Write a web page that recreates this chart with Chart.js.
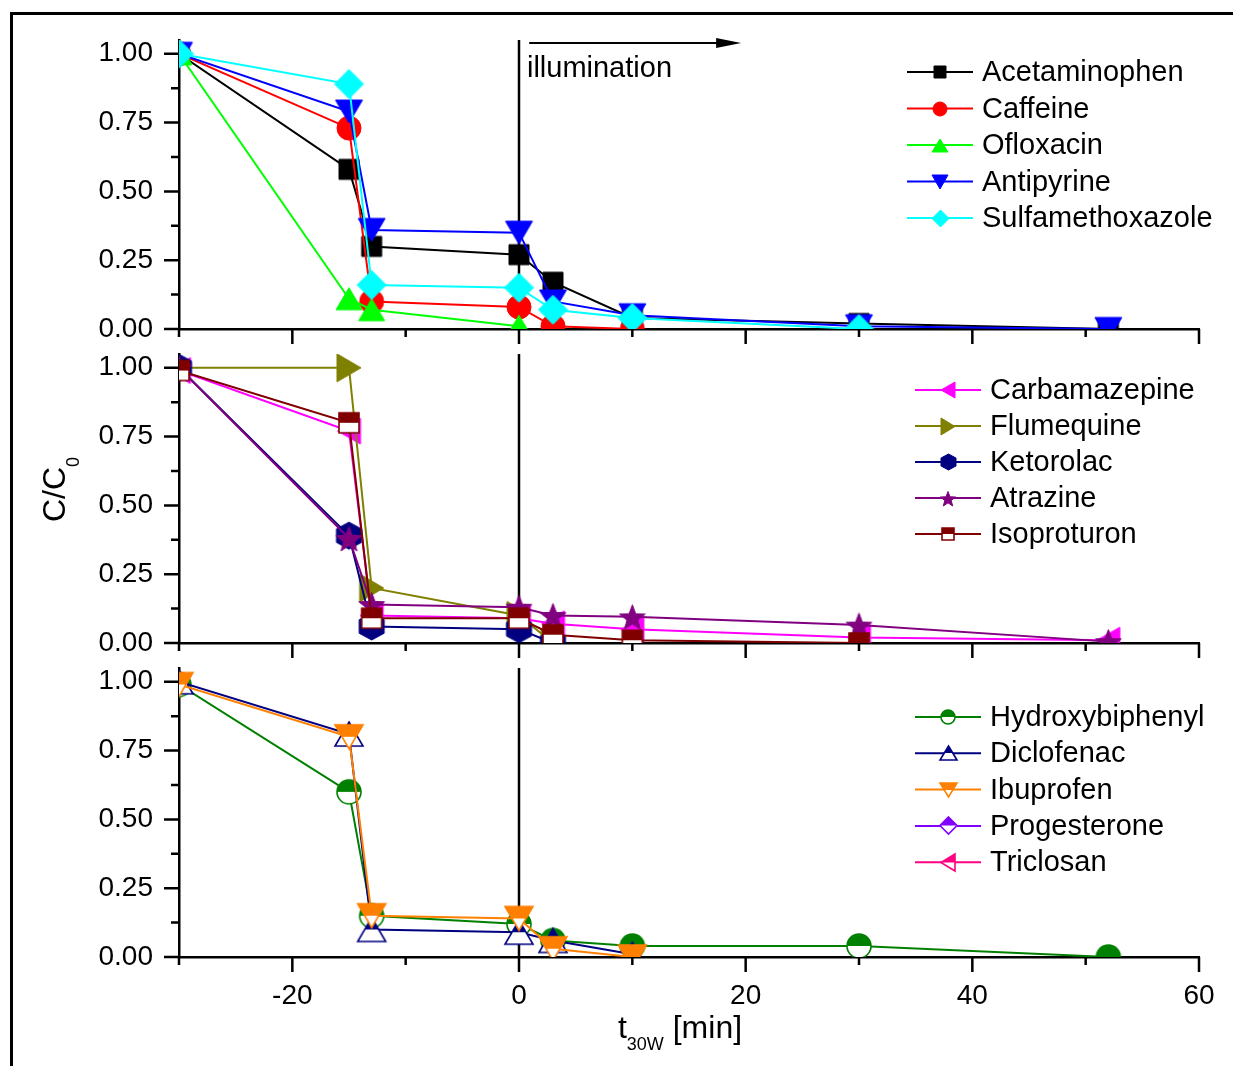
<!DOCTYPE html>
<html>
<head>
<meta charset="utf-8">
<title>C/C0 vs t30W</title>
<script src="https://cdn.jsdelivr.net/npm/chart.js@4.4.1/dist/chart.umd.min.js"></script>
<style>
  html, body { margin: 0; padding: 0; background: #fff; }
  #page { position: relative; width: 1233px; height: 1066px; overflow: hidden; background: #fff; }
  #frame { position: absolute; left: 10px; top: 12px; width: 1400px; height: 1200px;
           border-left: 3px solid #000; border-top: 3px solid #000; }
  canvas { position: absolute; left: 0; }
</style>
</head>
<body>
<div id="page">
  <div id="frame"></div>
  <canvas id="panel1" width="1233" height="345" style="top:0px"></canvas>
  <canvas id="panel2" width="1233" height="315" style="top:345px"></canvas>
  <canvas id="panel3" width="1233" height="406" style="top:660px"></canvas>
</div>
<script>
// Время отбора проб, мин
const times = [-30, -15, -13, 0, 3, 10, 30, 52];

const xTicks = [-30, -20, -10, 0, 10, 20, 30, 40, 50, 60];
const xLabels = ['', '-20', '', '0', '', '20', '', '40', '', '60'];
const yTicks = [0, 0.125, 0.25, 0.375, 0.5, 0.625, 0.75, 0.875, 1];
const yLabels = ['0.00', '', '0.25', '', '0.50', '', '0.75', '', '1.00'];

// верхняя панель
const acetaminophen = [1.00, 0.58, 0.30, 0.27, 0.17, 0.04, 0.02, 0.00];
const caffeine = [1.00, 0.73, 0.10, 0.08, 0.01, 0.00, null, null];
const ofloxacin = [1.00, 0.11, 0.07, 0.01, null, null, null, null];
const antipyrine = [1.00, 0.79, 0.36, 0.35, 0.10, 0.05, 0.01, 0.00];
const sulfamethoxazole = [1.00, 0.89, 0.16, 0.15, 0.07, 0.04, 0.00, null];

// средняя панель
const carbamazepine = [0.99, 0.77, 0.10, 0.09, 0.07, 0.05, 0.02, 0.01];
const flumequine = [1.00, 1.00, 0.20, 0.10, 0.00, null, null, null];
const ketorolac = [1.00, 0.39, 0.06, 0.05, 0.00, null, null, null];
const atrazine = [1.00, 0.38, 0.14, 0.13, 0.10, 0.095, 0.065, 0.005];
const isoproturon = [0.99, 0.80, 0.09, 0.09, 0.03, 0.01, 0.00, null];

// нижняя панель
const hydroxybiphenyl = [0.99, 0.60, 0.15, 0.12, 0.06, 0.04, 0.04, 0.00];
const diclofenac = [1.00, 0.81, 0.10, 0.09, 0.06, 0.01, null, null];
const ibuprofen = [0.99, 0.80, 0.15, 0.14, 0.03, 0.00, null, null];
const progesterone = [null, null, null, null, null, null, null, null];
const triclosan = [null, null, null, null, null, null, null, null];

const FONT = '"Liberation Sans", Arial, sans-serif';

// Контур маркера
function shapePath(ctx, shape, cx, cy, w, h) {
  ctx.beginPath();
  if (shape === 'square') {
    ctx.rect(cx - w / 2, cy - h / 2, w, h);
  } else if (shape === 'circle') {
    ctx.arc(cx, cy, w / 2, 0, Math.PI * 2);
  } else if (shape === 'up') {
    ctx.moveTo(cx, cy - h / 2); ctx.lineTo(cx + w / 2, cy + h / 2); ctx.lineTo(cx - w / 2, cy + h / 2);
  } else if (shape === 'down') {
    ctx.moveTo(cx - w / 2, cy - h / 2); ctx.lineTo(cx + w / 2, cy - h / 2); ctx.lineTo(cx, cy + h / 2);
  } else if (shape === 'right') {
    ctx.moveTo(cx - w / 2, cy - h / 2); ctx.lineTo(cx + w / 2, cy); ctx.lineTo(cx - w / 2, cy + h / 2);
  } else if (shape === 'left') {
    ctx.moveTo(cx + w / 2, cy - h / 2); ctx.lineTo(cx - w / 2, cy); ctx.lineTo(cx + w / 2, cy + h / 2);
  } else if (shape === 'diamond') {
    ctx.moveTo(cx, cy - h / 2); ctx.lineTo(cx + w / 2, cy); ctx.lineTo(cx, cy + h / 2); ctx.lineTo(cx - w / 2, cy);
  } else if (shape === 'hexagon') {
    for (let k = 0; k < 6; k++) {
      const ang = -Math.PI / 2 + k * Math.PI / 3;
      const px = cx + Math.cos(ang) * w / 2 / Math.cos(Math.PI / 6);
      const py = cy + Math.sin(ang) * h / 2;
      k === 0 ? ctx.moveTo(px, py) : ctx.lineTo(px, py);
    }
  } else if (shape === 'star') {
    for (let k = 0; k < 10; k++) {
      const r = k % 2 === 0 ? h / 2 : h / 2 * 0.42;
      const ang = -Math.PI / 2 + k * Math.PI / 5;
      const px = cx + Math.cos(ang) * r;
      const py = cy + 1.5 + Math.sin(ang) * r;
      k === 0 ? ctx.moveTo(px, py) : ctx.lineTo(px, py);
    }
  }
  ctx.closePath();
}

function makeMarker(shape, color, w, h, half) {
  const c = document.createElement('canvas');
  c.width = Math.ceil(w + 4);
  c.height = Math.ceil(h + 4);
  const ctx = c.getContext('2d');
  const cx = c.width / 2, cy = c.height / 2;
  shapePath(ctx, shape, cx, cy, w, h);
  if (half) {
    ctx.fillStyle = '#fff';
    ctx.fill();
    ctx.save();
    ctx.clip();
    ctx.fillStyle = color;
    ctx.fillRect(0, 0, c.width, cy);
    ctx.restore();
    ctx.lineWidth = 1.6;
    ctx.strokeStyle = color;
    ctx.stroke();
  } else {
    ctx.fillStyle = color;
    ctx.fill();
    ctx.lineWidth = 1;
    ctx.strokeStyle = color;
    ctx.stroke();
  }
  return c;
}

function makeDataset(label, values, color, shape, w, h, half, idx, total) {
  return {
    label,
    data: times.map((t, i) => ({ x: t, y: values[i] })).filter(p => p.y !== null),
    borderColor: color,
    backgroundColor: color,
    borderWidth: 2,
    tension: 0,
    pointStyle: makeMarker(shape, color, w, h, half),
    legendMarker: makeMarker(shape, color, Math.round(w * 0.6), Math.round(h * 0.6), half),
    pointRadius: 12,
    order: total - idx,
    clip: 0
  };
}

// Оси: засечки наружу, вертикальная линия t = 0
const axisDecor = {
  id: 'axisDecor',
  beforeDatasetsDraw(chart) {
    const { ctx, chartArea: a, scales: { x } } = chart;
    const px = x.getPixelForValue(0);
    ctx.save();
    ctx.strokeStyle = '#000';
    ctx.lineWidth = 2.5;
    ctx.beginPath();
    ctx.moveTo(px, a.top);
    ctx.lineTo(px, a.bottom);
    ctx.stroke();
    ctx.restore();
  },
  afterDraw(chart) {
    const { ctx, chartArea: a, scales: { x, y } } = chart;
    ctx.save();
    ctx.strokeStyle = '#000';
    ctx.lineWidth = 2.5;
    ctx.beginPath();
    xTicks.forEach(v => {
      const p = x.getPixelForValue(v);
      const len = v % 20 === 0 ? 15 : 8;
      ctx.moveTo(p, a.bottom);
      ctx.lineTo(p, a.bottom + len);
    });
    yTicks.forEach(v => {
      const p = y.getPixelForValue(v);
      const len = Math.round(v * 1000) % 250 === 0 ? 15 : 8;
      ctx.moveTo(a.left - len, p);
      ctx.lineTo(a.left, p);
    });
    ctx.stroke();
    ctx.restore();
  }
};

// Легенда: линия + маркер + подпись
const sideLegend = {
  id: 'sideLegend',
  afterDraw(chart, args, opts) {
    const { ctx, chartArea: a } = chart;
    ctx.save();
    ctx.font = '29px ' + FONT;
    ctx.textBaseline = 'middle';
    ctx.fillStyle = '#000';
    chart.data.datasets.forEach((ds, i) => {
      const y = a.top + opts.top + i * opts.step;
      const x0 = a.right - opts.right;
      ctx.strokeStyle = ds.borderColor;
      ctx.lineWidth = 2;
      ctx.beginPath();
      ctx.moveTo(x0, y);
      ctx.lineTo(x0 + 66, y);
      ctx.stroke();
      const m = ds.legendMarker;
      ctx.drawImage(m, Math.round(x0 + 33 - m.width / 2), Math.round(y - m.height / 2));
      ctx.fillText(ds.label, x0 + 75, y + 1);
    });
    ctx.restore();
  }
};

// Стрелка "illumination"
const illumination = {
  id: 'illumination',
  afterDraw(chart) {
    const { ctx, chartArea: a, scales: { x } } = chart;
    const x0 = x.getPixelForValue(0.9);
    const x1 = x.getPixelForValue(19.6);
    const y = a.top + 3;
    ctx.save();
    ctx.strokeStyle = '#000';
    ctx.fillStyle = '#000';
    ctx.lineWidth = 2;
    ctx.beginPath();
    ctx.moveTo(x0, y);
    ctx.lineTo(x1 - 20, y);
    ctx.stroke();
    ctx.beginPath();
    ctx.moveTo(x1, y);
    ctx.lineTo(x1 - 25, y - 5);
    ctx.lineTo(x1 - 25, y + 5);
    ctx.closePath();
    ctx.fill();
    ctx.font = '29px ' + FONT;
    ctx.textBaseline = 'alphabetic';
    ctx.fillText('illumination', x.getPixelForValue(0.7), a.top + 37);
    ctx.restore();
  }
};

// Подписи осей с индексами
const yTitle = {
  id: 'yTitle',
  afterDraw(chart) {
    const { ctx, chartArea: a } = chart;
    const cy = (a.top + a.bottom) / 2 - 9;
    ctx.save();
    ctx.fillStyle = '#000';
    ctx.translate(65, cy);
    ctx.rotate(-Math.PI / 2);
    ctx.font = '32px ' + FONT;
    const wMain = ctx.measureText('C/C').width;
    ctx.font = '18px ' + FONT;
    const wSub = ctx.measureText('0').width;
    const start = -(wMain + wSub) / 2;
    ctx.font = '32px ' + FONT;
    ctx.fillText('C/C', start, 0);
    ctx.font = '18px ' + FONT;
    ctx.fillText('0', start + wMain, 14);
    ctx.restore();
  }
};

const xTitle = {
  id: 'xTitle',
  afterDraw(chart) {
    const { ctx, chartArea: a } = chart;
    const base = a.bottom + 81;
    ctx.save();
    ctx.fillStyle = '#000';
    ctx.font = '32px ' + FONT;
    const wT = ctx.measureText('t').width;
    const wRest = ctx.measureText(' [min]').width;
    ctx.font = '18px ' + FONT;
    const wSub = ctx.measureText('30W').width;
    let xs = (a.left + a.right) / 2 - 9 - (wT + wSub + wRest) / 2;
    ctx.font = '32px ' + FONT;
    ctx.fillText('t', xs, base);
    xs += wT;
    ctx.font = '18px ' + FONT;
    ctx.fillText('30W', xs, base + 12);
    xs += wSub;
    ctx.font = '32px ' + FONT;
    ctx.fillText(' [min]', xs, base);
    ctx.restore();
  }
};

// убираем запас под подписи, чтобы область графика была ровно заданной
function noPadding(s) {
  s.paddingLeft = 0;
  s.paddingRight = 0;
  s.paddingTop = 0;
  s.paddingBottom = 0;
}

function makeScales(showX, xHeight) {
  return {
    x: {
      type: 'linear',
      min: -30,
      max: 60,
      afterBuildTicks: s => { s.ticks = xTicks.map(v => ({ value: v })); },
      afterFit: s => { s.height = xHeight; noPadding(s); },
      grid: { display: false, drawTicks: false },
      border: { display: true, color: '#000', width: 2.5 },
      ticks: {
        display: showX,
        autoSkip: false,
        maxRotation: 0,
        padding: 22,
        color: '#000',
        font: { family: FONT, size: 28 },
        callback: (v, i) => xLabels[i]
      }
    },
    y: {
      min: 0,
      max: 1.05,
      afterBuildTicks: s => { s.ticks = yTicks.map(v => ({ value: v })); },
      afterFit: s => { s.width = 179; noPadding(s); },
      grid: { display: false, drawTicks: false },
      border: { display: true, color: '#000', width: 2.5 },
      ticks: {
        autoSkip: false,
        padding: 26,
        color: '#000',
        font: { family: FONT, size: 28 },
        callback: (v, i) => yLabels[i]
      }
    }
  };
}

function makePanel(id, datasets, padTop, xHeight, showX, legendOpts, extra) {
  return new Chart(document.getElementById(id), {
    type: 'line',
    data: { datasets },
    options: {
      responsive: false,
      animation: false,
      events: [],
      layout: { padding: { left: 0, right: 34, top: padTop, bottom: 0 }, autoPadding: false },
      plugins: {
        legend: { display: false },
        tooltip: { enabled: false },
        sideLegend: legendOpts
      },
      scales: makeScales(showX, xHeight)
    },
    plugins: [axisDecor, sideLegend].concat(extra)
  });
}

const p1 = [
  ['Acetaminophen', acetaminophen, '#000000', 'square', 20, 20, false],
  ['Caffeine', caffeine, '#ff0000', 'circle', 24, 24, false],
  ['Ofloxacin', ofloxacin, '#00ff00', 'up', 26, 22, false],
  ['Antipyrine', antipyrine, '#0000ff', 'down', 27, 23, false],
  ['Sulfamethoxazole', sulfamethoxazole, '#00ffff', 'diamond', 29, 29, false]
];
const p2 = [
  ['Carbamazepine', carbamazepine, '#ff00ff', 'left', 23, 26, false],
  ['Flumequine', flumequine, '#808000', 'right', 24, 28, false],
  ['Ketorolac', ketorolac, '#000080', 'hexagon', 25, 27, false],
  ['Atrazine', atrazine, '#800080', 'star', 27, 27, false],
  ['Isoproturon', isoproturon, '#800000', 'square', 20, 20, true]
];
const p3 = [
  ['Hydroxybiphenyl', hydroxybiphenyl, '#008000', 'circle', 24, 24, true],
  ['Diclofenac', diclofenac, '#000080', 'up', 28, 24, true],
  ['Ibuprofen', ibuprofen, '#ff8000', 'down', 28, 24, true],
  ['Progesterone', progesterone, '#8000ff', 'diamond', 28, 28, true],
  ['Triclosan', triclosan, '#ff0080', 'left', 24, 28, true]
];

const build = list => list.map((s, i) => makeDataset(s[0], s[1], s[2], s[3], s[4], s[5], s[6], i, list.length));

window.addEventListener('DOMContentLoaded', () => {
  makePanel('panel1', build(p1), 40, 16, false, { top: 32, right: 292, step: 36.5 }, [illumination]);
  makePanel('panel2', build(p2), 9, 17, false, { top: 36, right: 284, step: 36 }, [yTitle]);
  makePanel('panel3', build(p3), 8, 109, true, { top: 49, right: 284, step: 36.3 }, [xTitle]);
});
</script>
</body>
</html>
